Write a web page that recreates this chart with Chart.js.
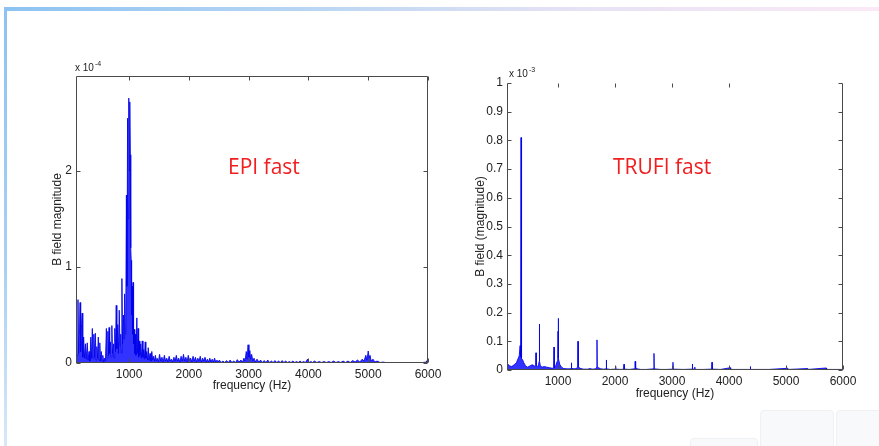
<!DOCTYPE html>
<html>
<head>
<meta charset="utf-8">
<script src="https://cdn.jsdelivr.net/npm/chart.js@4.4.1/dist/chart.umd.min.js"></script>
<style>
  html, body { margin: 0; padding: 0; background: #fff; }
  body { width: 879px; height: 446px; position: relative; overflow: hidden; font-family: "Liberation Sans", Arial, sans-serif; }
  .bar-top { position: absolute; left: 4px; top: 7px; width: 875px; height: 4px;
    background: linear-gradient(to right, #8cc3f2 0%, #b9d6f3 35%, #e6e2f5 65%, #fbe9f6 100%); }
  .bar-left { position: absolute; left: 4px; top: 7px; width: 3px; height: 439px;
    background: linear-gradient(to bottom, #8cc3f2 0%, #a9d0f4 60%, #d6e8f8 100%); }
  .tile { position: absolute; border-radius: 4px; background: #f8f9fa; border: 1px solid #f0f1f2; }
  .wrap { position: absolute; }
  .label { position: absolute; color: #f01e1e; font-family: "Open Sans", sans-serif; font-size: 21px; white-space: nowrap; }
</style>
</head>
<body>
<div class="bar-top"></div>
<div class="bar-left"></div>
<div class="tile" style="left:760px;top:410px;width:72px;height:40px"></div>
<div class="tile" style="left:836px;top:410px;width:50px;height:40px"></div>
<div class="tile" style="left:690px;top:438px;width:66px;height:20px"></div>

<div class="wrap" style="left:45px;top:50px;width:405px;height:350px"><canvas id="epi"></canvas></div>
<div class="wrap" style="left:470px;top:60px;width:400px;height:350px"><canvas id="trufi"></canvas></div>
<div class="label" style="left:228px;top:152px">EPI fast</div>
<div class="label" style="left:613px;top:152px">TRUFI fast</div>

<script>
// EPI fast spectrum, magnitude in units of 1e-4
const epiFreq = [110,120,130,145,155,170,180,190,205,215,225,240,255,270,285,300,315,330,345,360,372,385,398,410,420,435,448,460,472,485,498,510,522,535,548,560,575,590,605,620,632,645,655,665,675,690,700,712,722,740,750,760,772,785,795,810,822,835,848,860,870,880,890,905,915,925,935,945,955,965,975,985,995,1005,1012,1020,1028,1035,1042,1050,1058,1066,1075,1085,1095,1105,1115,1130,1140,1150,1160,1170,1180,1195,1205,1220,1232,1245,1255,1270,1280,1295,1310,1320,1335,1350,1365,1380,1395,1410,1425,1440,1455,1470,
  1490,1510,1530,1550,1570,1590,1610,1630,1650,1670,1690,1710,1730,1750,1770,1790,1810,1830,1850,1870,1890,1910,1930,1950,1970,1990,2010,2030,2050,2070,2090,2110,2130,2150,2170,2190,2210,2230,2250,2270,2290,2310,2330,2350,2370,2390,2410,2430,2450,2470,2490,2510,2540,2570,2600,2630,2660,2690,2720,2750,2780,2810,2840,2870,2900,2920,2940,2960,2975,2990,3005,3020,3035,3050,3070,3090,3110,3140,3170,3200,3230,3260,3290,3320,3350,3380,3410,3440,3470,3500,3530,3560,3590,3620,3650,3680,3710,3740,3770,3800,3830,3860,3890,3920,3950,3985,4010,4040,4070,4100,4140,4180,4220,4260,4300,4340,4380,4420,4460,4500,4540,4580,4620,4660,4700,4740,4780,4820,4860,4900,4930,4960,4980,5000,5015,5030,5050,5080,5110,5150,5200,5250,5300,5400,5500,5600,5700,5800,5900,5970,5990,6000];
const epiMag = [0.05,0.52,0.08,0.66,0.10,0.30,0.63,0.12,0.40,0.52,0.06,0.27,0.05,0.20,0.04,0.21,0.03,0.12,0.02,0.27,0.05,0.36,0.04,0.30,0.06,0.31,0.03,0.17,0.05,0.27,0.03,0.21,0.02,0.12,0.02,0.08,0.01,0.05,0.02,0.36,0.05,0.33,0.08,0.37,0.10,0.22,0.06,0.39,0.10,0.20,0.05,0.36,0.12,0.60,0.15,0.40,0.10,0.55,0.18,0.30,0.10,0.88,0.20,0.50,0.25,0.72,0.30,0.50,1.75,0.80,2.55,1.50,2.76,2.00,2.72,2.17,1.20,1.07,0.50,0.80,0.30,0.84,0.20,0.35,0.10,0.30,0.08,0.47,0.10,0.36,0.06,0.23,0.08,0.20,0.05,0.23,0.06,0.14,0.04,0.22,0.05,0.12,0.03,0.16,0.03,0.10,0.02,0.12,0.03,0.07,0.02,0.08,0.02,0.05,
  0.01,0.09,0.02,0.06,0.01,0.08,0.02,0.05,0.01,0.07,0.02,0.04,0.01,0.06,0.02,0.08,0.02,0.05,0.01,0.07,0.02,0.09,0.02,0.06,0.01,0.08,0.02,0.05,0.01,0.07,0.02,0.06,0.01,0.05,0.02,0.07,0.01,0.05,0.02,0.06,0.01,0.04,0.01,0.05,0.01,0.04,0.01,0.05,0.01,0.03,0.01,0.03,0.005,0.02,0.005,0.025,0.005,0.03,0.005,0.02,0.005,0.035,0.01,0.03,0.01,0.05,0.02,0.12,0.04,0.19,0.06,0.13,0.04,0.09,0.02,0.05,0.01,0.04,0.01,0.03,0.005,0.025,0.005,0.03,0.005,0.02,0.005,0.025,0.005,0.02,0.005,0.025,0.005,0.02,0.005,0.015,0.005,0.02,0.005,0.015,0.005,0.02,0.005,0.015,0.005,0.04,0.005,0.015,0.005,0.02,0.005,0.015,0.005,0.015,0.005,0.015,0.005,0.02,0.005,0.015,0.005,0.02,0.005,0.02,0.005,0.025,0.01,0.03,0.01,0.04,0.02,0.08,0.03,0.125,0.05,0.08,0.02,0.04,0.01,0.02,0.005,0.01,0.003,0.005,0.003,0.005,0.003,0.005,0.004,0.01,0.03,0.02];

// TRUFI fast spectrum, magnitude in units of 1e-3
const trufiFreq = [100,120,150,180,210,240,270,300,320,335,340,347,351,355,365,380,400,430,460,490,520,550,580,600,610,614,618,640,660,669,673,677,690,720,760,800,850,900,926,930,934,960,985,995,1000,1003,1007,1011,1030,1060,1100,1160,1200,1231,1235,1239,1300,1340,1347,1351,1355,1400,1450,1520,1560,1600,1660,1680,1684,1688,1750,1800,1844,1848,1852,1920,2000,2010,2014,2100,2154,2158,2162,2250,2340,2350,2357,2362,2450,2550,2680,2684,2688,2800,2900,3013,3017,3021,3200,3353,3357,3361,3395,3400,3405,3550,3698,3702,3706,3850,4024,4030,4200,4371,4375,4379,4700,5034,5040,5375,5380,5708,5712,6000];
const trufiMag = [0.025,0.02,0.015,0.012,0.015,0.02,0.025,0.04,0.05,0.085,0.05,0.045,0.81,0.045,0.04,0.035,0.025,0.015,0.01,0.012,0.016,0.018,0.015,0.012,0.015,0.06,0.015,0.01,0.02,0.03,0.16,0.03,0.015,0.01,0.012,0.01,0.008,0.006,0.008,0.08,0.008,0.015,0.03,0.04,0.135,0.05,0.18,0.04,0.02,0.01,0.005,0.004,0.004,0.005,0.025,0.005,0.004,0.008,0.01,0.10,0.01,0.005,0.003,0.003,0.005,0.003,0.004,0.01,0.105,0.01,0.004,0.003,0.004,0.035,0.004,0.002,0.003,0.013,0.003,0.002,0.003,0.02,0.003,0.002,0.004,0.03,0.03,0.005,0.002,0.002,0.004,0.058,0.004,0.002,0.002,0.003,0.027,0.003,0.002,0.003,0.021,0.003,0.003,0.01,0.002,0.002,0.003,0.027,0.003,0.002,0.008,0.002,0.002,0.002,0.012,0.002,0.002,0.006,0.002,0.005,0.002,0.007,0.002,0.002];

const xTicks = [1000, 2000, 3000, 4000, 5000, 6000];
const epiYTicks = [0, 1, 2];
const trufiYTicks = [0, 0.1, 0.2, 0.3, 0.4, 0.5, 0.6, 0.7, 0.8, 0.9, 1];
const trufiTopTicks = [1000, 2000, 3000, 4000];

const tickFont = { family: '"Liberation Sans", Arial, sans-serif', size: 12 };

// MATLAB-like frame: box lines, inward ticks, exponent label
const matlabBox = {
  id: 'matlabBox',
  afterDraw(chart, args, opts) {
    const { ctx, chartArea: a, scales: { x, y } } = chart;
    const L = Math.round(a.left) + 0.5, R = Math.round(a.right) - 0.5;
    const T = Math.round(a.top) + 0.5, B = Math.round(a.bottom) - 0.5;
    const t = 4;
    ctx.save();
    ctx.strokeStyle = '#4a4a4a';
    ctx.lineWidth = 1;
    ctx.beginPath();
    ctx.moveTo(L, T); ctx.lineTo(L, B); ctx.lineTo(R, B); ctx.lineTo(R, T);
    if (opts.topLine) ctx.lineTo(L, T);
    ctx.stroke();
    ctx.beginPath();
    x.ticks.forEach(tk => {
      const px = Math.round(x.getPixelForValue(tk.value)) + 0.5;
      ctx.moveTo(px, B); ctx.lineTo(px, B - t);
    });
    (opts.topTicks || x.ticks.map(tk => tk.value)).forEach(v => {
      const px = Math.round(x.getPixelForValue(v)) + 0.5;
      ctx.moveTo(px, T); ctx.lineTo(px, T + t);
    });
    y.ticks.forEach(tk => {
      const py = Math.round(y.getPixelForValue(tk.value)) + 0.5;
      ctx.moveTo(L, py); ctx.lineTo(L + t, py);
      ctx.moveTo(R, py); ctx.lineTo(R - t, py);
    });
    ctx.stroke();
    ctx.fillStyle = '#222';
    ctx.textBaseline = 'alphabetic';
    ctx.font = '10px "Liberation Sans", Arial, sans-serif';
    const ex = a.left + opts.expDx, ey = a.top + opts.expDy;
    ctx.fillText('x 10', ex, ey);
    const w = ctx.measureText('x 10').width;
    ctx.font = '7px "Liberation Sans", Arial, sans-serif';
    ctx.fillText(opts.exp, ex + w + 1, ey - 5);
    ctx.restore();
  }
};

function spectrum(id, freq, mag, cfg) {
  new Chart(document.getElementById(id), {
    type: 'line',
    data: {
      datasets: [{
        data: freq.map((f, i) => ({ x: f, y: mag[i] })),
        borderColor: 'rgba(0,0,235,0.85)',
        backgroundColor: 'rgba(0,0,255,0.8)',
        borderWidth: 1,
        pointRadius: 0,
        tension: 0,
        fill: 'origin',
      }],
    },
    options: {
      responsive: true,
      maintainAspectRatio: false,
      animation: false,
      events: [],
      layout: { padding: { top: cfg.padTop, right: cfg.padRight, left: 0, bottom: 0 } },
      plugins: {
        legend: { display: false },
        tooltip: { enabled: false },
        matlabBox: cfg.box,
      },
      scales: {
        x: {
          type: 'linear',
          min: cfg.xMin, max: 6000,
          border: { display: false },
          grid: { display: false, drawTicks: false },
          ticks: { font: tickFont, color: '#222', padding: cfg.xTickPad, maxRotation: 0, autoSkip: false, callback: v => String(v) },
          afterBuildTicks: s => { s.ticks = xTicks.map(v => ({ value: v })); },
          afterFit: s => { s.height = cfg.xH; },
          title: { display: true, text: 'frequency (Hz)', font: tickFont, color: '#222', padding: { top: 0, bottom: cfg.xTitlePad } },
        },
        y: {
          min: 0, max: cfg.yMax,
          border: { display: false },
          grid: { display: false, drawTicks: false },
          ticks: { font: tickFont, color: '#222', padding: 4, autoSkip: false, callback: v => String(v) },
          afterBuildTicks: s => { s.ticks = cfg.yTicks.map(v => ({ value: v })); },
          afterFit: s => { s.width = cfg.yW; },
          title: { display: true, text: cfg.yTitle, font: tickFont, color: '#222', padding: { top: cfg.yTitlePad, bottom: 0 } },
        },
      },
    },
    plugins: [matlabBox],
  });
}

spectrum('epi', epiFreq, epiMag, {
  xMin: 112, yMax: 2.99, yTicks: epiYTicks, yTitle: 'B field magnitude',
  padTop: 26, padRight: 22, xH: 37, yW: 31, xTickPad: 4, xTitlePad: 7, yTitlePad: 5,
  box: { topLine: true, exp: '-4', expDx: -1, expDy: -5 },
});

spectrum('trufi', trufiFreq, trufiMag, {
  xMin: 105, yMax: 1, yTicks: trufiYTicks, yTitle: 'B field (magnitude)',
  padTop: 23, padRight: 27, xH: 40, yW: 37, xTickPad: 4, xTitlePad: 9, yTitlePad: 3,
  box: { topLine: false, topTicks: trufiTopTicks, exp: '-3', expDx: 2, expDy: -6 },
});
</script>
</body>
</html>
